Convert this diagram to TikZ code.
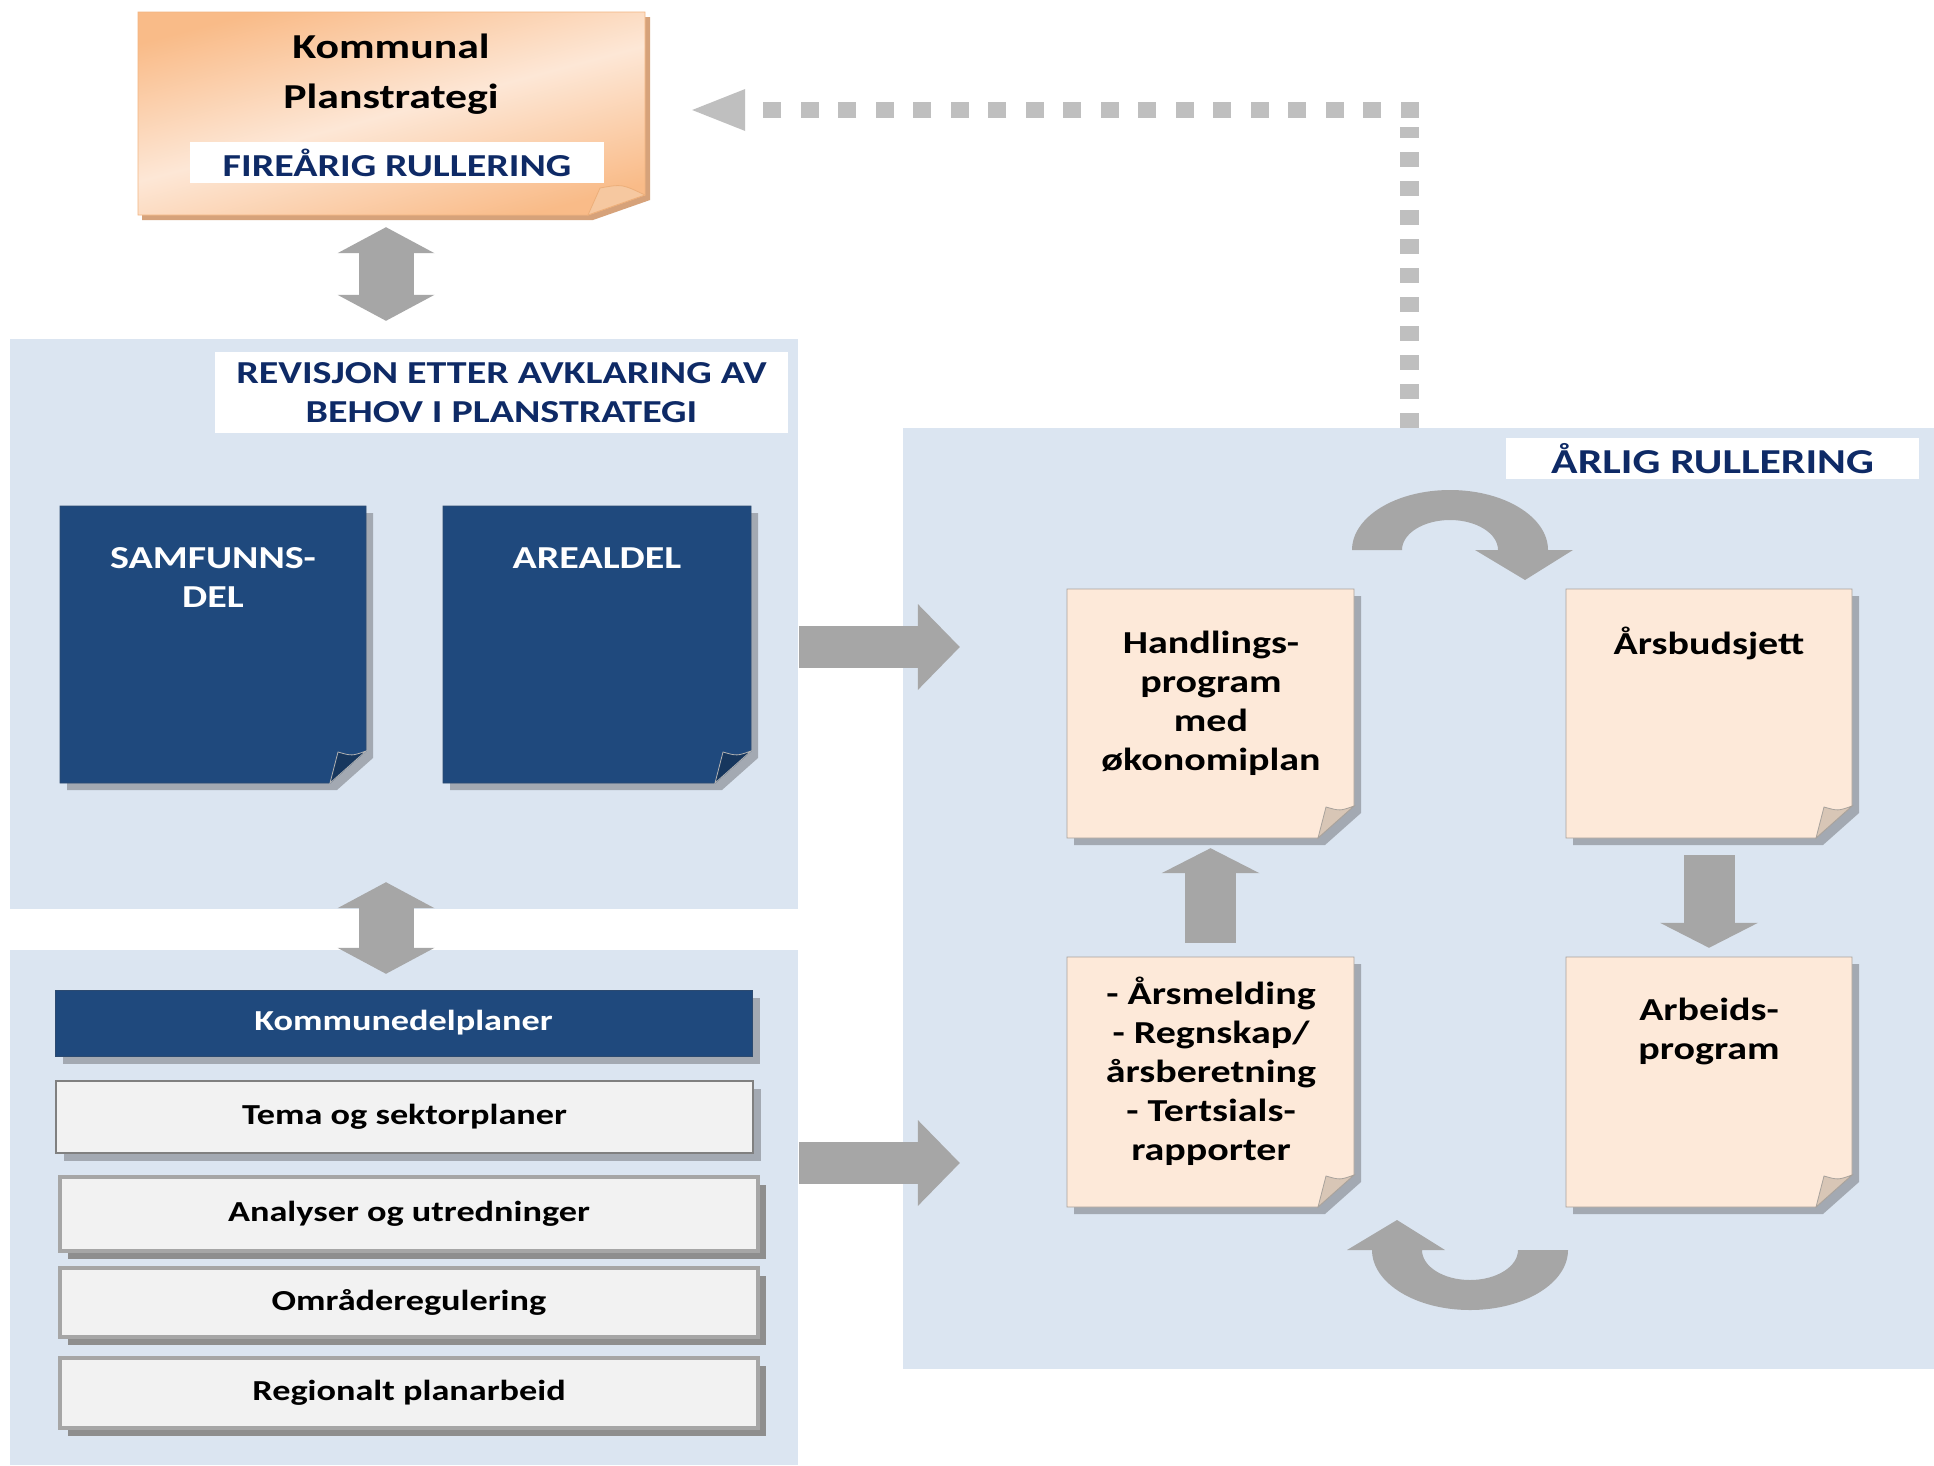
\documentclass[tikz,border=0pt]{standalone}
\usepackage{fontspec}
\setmainfont{Carlito}[FakeStretch=1.25]
\usepackage{tikz}
\usetikzlibrary{arrows.meta,fit,positioning,shadows}

\definecolor{panelblue}{HTML}{DBE5F1}
\definecolor{docblue}{HTML}{1F497D}
\definecolor{docedge}{HTML}{2C4A70}
\definecolor{docfold}{HTML}{17375E}
\definecolor{peach}{HTML}{FDE9D9}
\definecolor{peachedge}{HTML}{A8A29C}
\definecolor{peachfold}{HTML}{D8C6B6}
\definecolor{pageshade}{HTML}{A3A9B2}
\definecolor{listshade}{HTML}{8E8E8E}
\definecolor{arrowgray}{HTML}{A6A6A6}
\definecolor{dotgray}{HTML}{BFBFBF}
\definecolor{navy}{HTML}{0E2A66}
\definecolor{listgray}{HTML}{F2F2F2}
\definecolor{listline}{HTML}{A6A6A6}
\definecolor{kommdark}{HTML}{F9BB88}
\definecolor{kommlight}{HTML}{FDE7D6}
\definecolor{kommshadow}{HTML}{D6A27A}
\definecolor{kommfoldc}{HTML}{F6C8A0}

% page with folded corner: name, x1, y1, x2, y2, kind
\newcommand{\docpage}[6]{%
  \fill[page shadow] (#2+7,#3+7) -- (#4+7,#3+7) -- (#4+7,#5-25) -- (#4-29,#5+7) -- (#2+7,#5+7) -- cycle;
  \path[#6 page] (#2,#3) -- (#4,#3) -- (#4,#5-32) -- (#4-36,#5) -- (#2,#5) -- cycle;
  \path[#6 fold] (#4-36,#5) -- (#4-28,#5-31) .. controls (#4-14,#5-27) .. (#4,#5-32) -- cycle;
  \node[fit={(#2,#3) (#4,#5)}, inner sep=0pt] (#1) {};
}

\begin{document}
\begin{tikzpicture}[x=1pt, y=-1pt,
    panel/.style={fill=panelblue, inner sep=0pt},
    page shadow/.style={fill=pageshade},
    dark page/.style={fill=docblue, draw=docedge, line width=0.8pt},
    dark fold/.style={fill=docfold, draw=gray!60, line width=0.8pt},
    light page/.style={fill=peach, draw=peachedge, line width=0.8pt},
    light fold/.style={fill=peachfold, draw=peachedge, line width=0.8pt},
    kommpage/.style={top color=kommdark, bottom color=kommdark, middle color=kommlight, shading angle=15, draw=kommdark!90!brown, line width=0.8pt},
    kommfold/.style={fill=kommfoldc, draw=kommdark!80!brown, line width=0.8pt},
    tag/.style={fill=white, text=navy, inner sep=0pt, align=center},
    pagetxt/.style={font=\fontsize{32}{39}\selectfont\bfseries, align=center},
    listbox/.style={minimum width=698pt, inner sep=0pt, font=\fontsize{29}{35}\selectfont\bfseries, fill=listgray},
    soft shadow/.style={drop shadow={shadow xshift=8pt, shadow yshift=-8pt, fill=pageshade, opacity=1}},
    hard shadow/.style={drop shadow={shadow xshift=8pt, shadow yshift=-8pt, fill=listshade, opacity=1}},
    thickbox/.style={draw=listline, line width=3.5pt, hard shadow},
    updown/.style={draw=arrowgray, line width=55pt, {Triangle[length=26pt,width=97pt,line width=0pt]}-{Triangle[length=26pt,width=97pt,line width=0pt]}},
    flow/.style={draw=arrowgray, line width=42pt, -{Triangle[length=42pt,width=86pt,line width=0pt]}},
    loopflow/.style={draw=arrowgray, line width=51pt, -{Triangle[length=25pt,width=98pt,line width=0pt]}},
    feedback/.style={draw=dotgray, line width=16pt, dash pattern=on 18pt off 19.5pt}]

\fill[white] (0,0) rectangle (1934,1465);
\useasboundingbox (0,0) rectangle (1934,1465);

% panels
\node[panel, fit={(10,339) (798,909)}] (panA) {};
\node[panel, fit={(10,950) (798,1465)}] (panB) {};
\node[panel, fit={(903,428) (1934,1369)}] (panC) {};

% kommunal planstrategi
\fill[kommshadow] (142,17) -- (650,17) -- (650,200) -- (593,220) -- (142,220) -- cycle;
\path[kommpage] (138,12) -- (645,12) -- (645,195) -- (588,215) -- (138,215) -- cycle;
\path[kommfold] (588,215) -- (600,188) .. controls (622,184) .. (645,195) -- cycle;
\node[fit={(138,12) (645,215)}, inner sep=0pt] (komm) {};
\node[font=\fontsize{35}{50}\selectfont\bfseries, align=center] (kommtxt) at (391,74) {Kommunal\\Planstrategi};
\node[tag, font=\fontsize{32}{38}\selectfont\bfseries, minimum width=414pt, minimum height=41pt] (firetag) at (397,162.5) {FIREÅRIG RULLERING};

% left side
\node[tag, font=\fontsize{32}{39}\selectfont\bfseries, minimum width=573pt, minimum height=81pt] (revtag) at (501.5,392.5) {REVISJON ETTER AVKLARING AV\\BEHOV I PLANSTRATEGI};
\docpage{samf}{60}{506}{366}{783}{dark}
\docpage{areal}{443}{506}{751}{783}{dark}
\node[pagetxt, text=white] (samftxt) at (213,577.5) {SAMFUNNS-\\DEL};
\node[pagetxt, text=white] (arealtxt) at (597,558) {AREALDEL};

\node[listbox, fill=docblue, draw=docedge, text=white, soft shadow, minimum width=697pt, minimum height=66pt] (kdp) at (403.5,1023) {Kommunedelplaner};
\node[listbox, draw=gray, line width=1.2pt, soft shadow, minimum width=697pt, minimum height=72pt] (tema) at (404.5,1117) {Tema og sektorplaner};
\node[listbox, thickbox, minimum height=74pt] (analyse) at (409,1214) {Analyser og utredninger};
\node[listbox, thickbox, minimum height=69pt] (omraade) at (409,1302.5) {Områderegulering};
\node[listbox, thickbox, minimum height=70pt] (regional) at (409,1393) {Regionalt planarbeid};

% right side
\node[tag, font=\fontsize{35}{40}\selectfont\bfseries, minimum width=413pt, minimum height=41pt] (aarligtag) at (1712.5,458.5) {ÅRLIG RULLERING};
\docpage{hand}{1067}{589}{1354}{838}{light}
\docpage{budsj}{1566}{589}{1852}{838}{light}
\docpage{aars}{1067}{957}{1354}{1207}{light}
\docpage{arbeid}{1566}{957}{1852}{1207}{light}
\node[pagetxt] (handtxt) at (1211,703) {Handlings-\\program\\med\\økonomiplan};
\node[pagetxt] (budsjtxt) at (1709,643) {Årsbudsjett};
\node[pagetxt] (aarstxt) at (1211,1071) {- Årsmelding\\- Regnskap/\\årsberetning\\- Tertsials-\\rapporter};
\node[pagetxt] (arbeidtxt) at (1709,1031) {Arbeids-\\program};

% arrows
\coordinate (spine) at (386,0);
\draw[updown, shorten <=12pt, shorten >=18pt] (komm.south -| spine) -- (panA.north -| spine);
\draw[updown, shorten <=-27pt, shorten >=16pt] (panA.south -| spine) -- (kdp.north -| spine);

\coordinate (feed1) at (799,647);
\coordinate (feed2) at (799,1163);
\draw[flow, shorten >=107pt] (feed1) -- (feed1 -| hand.west);
\draw[flow, shorten >=107pt] (feed2) -- (feed2 -| aars.west);

\draw[loopflow, shorten <=14pt, shorten >=10pt] (aars.north) -- (hand.south);
\draw[loopflow, shorten <=17pt, shorten >=9pt] (budsj.south) -- (arbeid.north);

\fill[arrowgray] (1352,550) arc[start angle=180, end angle=360, x radius=98, y radius=60]
  -- (1573,550) -- (1525,580) -- (1475,550) -- (1498,550)
  arc[start angle=0, end angle=-180, x radius=48, y radius=30] -- cycle;
\fill[arrowgray] (1568,1250) arc[start angle=0, end angle=180, x radius=98, y radius=60]
  -- (1347,1250) -- (1397,1220) -- (1445,1250) -- (1422,1250)
  arc[start angle=180, end angle=0, x radius=48, y radius=30] -- cycle;

% feedback to planstrategi
\coordinate (fbline) at (1409,0);
\draw[feedback, line width=19pt, dash pattern=on 15pt off 14pt] (panC.north -| fbline) -- ([yshift=-13.5pt]fbline |- komm.east);
\draw[feedback, -{Triangle[length=53pt,width=42pt,line width=0pt]}, shorten >=47pt] ([xshift=9.5pt, yshift=3.5pt]fbline |- komm.east) -- ([yshift=3.5pt]komm.east);

\end{tikzpicture}
\end{document}
